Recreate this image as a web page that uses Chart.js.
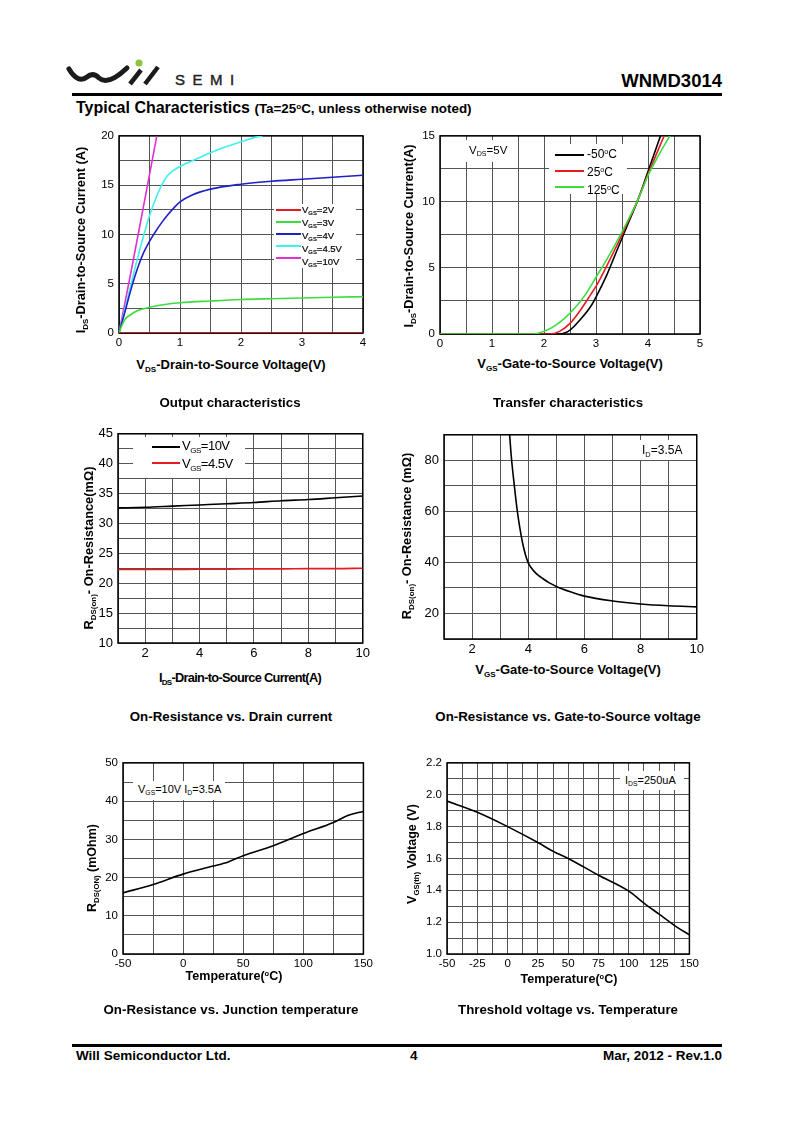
<!DOCTYPE html>
<html>
<head>
<meta charset="utf-8">
<script src="https://cdn.jsdelivr.net/npm/chart.js"></script>
<style>
  body { margin: 0; background: #fff; font-family: "Liberation Sans", Arial, sans-serif; }
  #page { position: relative; width: 800px; height: 1132px; overflow: hidden; background: #fff; }
  canvas { position: absolute; }
  .t { position: absolute; white-space: nowrap; color: #000; z-index: 2; }
  .c { transform: translate(-50%, -50%); }
  .r { transform: translate(-50%, -50%) rotate(-90deg); }
  .b { font-weight: bold; }
  .s { font-size: 0.62em; position: relative; top: 0.35em; }
  .o { font-size: 0.6em; position: relative; top: -0.55em; }
  .box { position: absolute; background: #fff; z-index: 1; }
  .ln { position: absolute; height: 2px; z-index: 2; }
  .rule { position: absolute; left: 72px; width: 650px; height: 3px; background: #000; }
  .cap { font-size: 13.3px; }
</style>
</head>
<body>
<div id="page">
  <!-- header -->
  <svg class="t" style="left:64px;top:56px" width="110" height="34" viewBox="64 56 110 34">
    <path d="M69 69 Q78 84 87 77 Q93 72 99 78 Q108 86 127 68" fill="none" stroke="#1b1b1b" stroke-width="5" stroke-linecap="round"/>
    <line x1="130" y1="84" x2="141" y2="70" stroke="#1b1b1b" stroke-width="4.5"/>
    <line x1="145" y1="84" x2="158" y2="67" stroke="#1b1b1b" stroke-width="4.5"/>
    <circle cx="139" cy="63" r="3.6" fill="#8cc63e"/>
  </svg>
  <div class="t" style="left:175px;top:71px;font-size:15px;letter-spacing:7.5px;color:#222;-webkit-text-stroke:0.4px #222">SEMI</div>
  <div class="t b" style="right:78px;top:70px;font-size:18.5px">WNMD3014</div>
  <div class="rule" style="top:93px"></div>
  <div class="t b" style="left:76px;top:99px;font-size:16px">Typical Characteristics <span style="font-size:13.4px">(Ta=25<span class="o">o</span>C, unless otherwise noted)</span></div>

  <!-- chart 1 -->
  <div class="box" style="left:274px;top:204px;width:82px;height:64px"></div>
  <div class="ln" style="left:276px;top:209px;width:25px;background:#e31b23"></div>
  <div class="ln" style="left:276px;top:221px;width:25px;background:#3ddc3d"></div>
  <div class="ln" style="left:276px;top:233px;width:25px;background:#2020c8"></div>
  <div class="ln" style="left:276px;top:245px;width:25px;background:#40f0f0"></div>
  <div class="ln" style="left:276px;top:257px;width:25px;background:#e030d0"></div>
  <div class="t" style="left:302px;top:204px;font-size:9.5px;line-height:12px;-webkit-text-stroke:0.2px #000">V<span class="s">GS</span>=2V<br>V<span class="s">GS</span>=3V<br>V<span class="s">GS</span>=4V<br>V<span class="s">GS</span>=4.5V<br>V<span class="s">GS</span>=10V</div>
  <div class="t b c" style="left:231px;top:364px;font-size:13px">V<span class="s">DS</span>-Drain-to-Source Voltage(V)</div>
  <div class="t b r" style="left:80px;top:240px;font-size:12.8px">I<span class="s">DS</span>-Drain-to-Source Current (A)</div>
  <div class="t b c cap" style="left:230px;top:402px">Output characteristics</div>

  <!-- chart 2 -->
  <div class="box" style="left:466px;top:140px;width:52px;height:22px"></div>
  <div class="t" style="left:469px;top:144px;font-size:11.5px">V<span class="s">DS</span>=5V</div>
  <div class="box" style="left:549px;top:144px;width:78px;height:50px"></div>
  <div class="ln" style="left:555px;top:154px;width:29px;background:#000"></div>
  <div class="ln" style="left:555px;top:170px;width:29px;background:#e31b23"></div>
  <div class="ln" style="left:555px;top:186px;width:29px;background:#3ddc3d"></div>
  <div class="t" style="left:587px;top:146px;font-size:12px;line-height:16px">-50<span class="o">o</span>C<br>25<span class="o">o</span>C<br>125<span class="o">o</span>C</div>
  <div class="t b c" style="left:570px;top:363px;font-size:13px">V<span class="s">GS</span>-Gate-to-Source Voltage(V)</div>
  <div class="t b r" style="left:408px;top:236px;font-size:12.8px">I<span class="s">DS</span>-Drain-to-Source Current(A)</div>
  <div class="t b c cap" style="left:568px;top:402px">Transfer characteristics</div>

  <!-- chart 3 -->
  <div class="box" style="left:133px;top:437px;width:112px;height:41px"></div>
  <div class="ln" style="left:152px;top:446px;width:28px;background:#000"></div>
  <div class="ln" style="left:152px;top:462px;width:28px;background:#e31b23"></div>
  <div class="t" style="left:182px;top:438px;font-size:13px;line-height:16px;letter-spacing:-0.5px">V<span class="s">GS</span>=10V<br>V<span class="s">GS</span>=4.5V</div>
  <div class="t b c" style="left:240px;top:677px;font-size:12.8px;letter-spacing:-0.7px">I<span class="s">DS</span>-Drain-to-Source Current(A)</div>
  <div class="t b r" style="left:88px;top:548px;font-size:12.8px">R<span class="s">DS(on)</span>- On-Resistance(mΩ)</div>
  <div class="t b c cap" style="left:231px;top:716px">On-Resistance vs. Drain current</div>

  <!-- chart 4 -->
  <div class="box" style="left:637px;top:440px;width:55px;height:20px"></div>
  <div class="t" style="left:642px;top:443px;font-size:12px">I<span class="s">D</span>=3.5A</div>
  <div class="t b c" style="left:568px;top:669px;font-size:13px">V<span class="s">GS</span>-Gate-to-Source Voltage(V)</div>
  <div class="t b r" style="left:406px;top:536px;font-size:12.8px">R<span class="s">DS(on)</span>- On-Resistance (mΩ)</div>
  <div class="t b c cap" style="left:568px;top:716px">On-Resistance vs. Gate-to-Source voltage</div>

  <!-- chart 5 -->
  <div class="box" style="left:133px;top:781px;width:92px;height:19px"></div>
  <div class="t" style="left:138px;top:783px;font-size:11px">V<span class="s">GS</span>=10V I<span class="s">D</span>=3.5A</div>
  <div class="t b c" style="left:234px;top:976px;font-size:12.5px">Temperature(<span class="o">o</span>C)</div>
  <div class="t b r" style="left:92px;top:868px;font-size:12.5px">R<span class="s">DS(ON)</span> (mOhm)</div>
  <div class="t b c cap" style="left:231px;top:1009px">On-Resistance vs. Junction temperature</div>

  <!-- chart 6 -->
  <div class="box" style="left:620px;top:771px;width:64px;height:19px"></div>
  <div class="t" style="left:625px;top:774px;font-size:11px">I<span class="s">DS</span>=250uA</div>
  <div class="t b c" style="left:569px;top:979px;font-size:12.5px">Temperature(<span class="o">o</span>C)</div>
  <div class="t b r" style="left:412px;top:854px;font-size:12.5px">V<span class="s">GS(th)</span> Voltage (V)</div>
  <div class="t b c cap" style="left:568px;top:1009px">Threshold voltage vs. Temperature</div>

  <!-- footer -->
  <div class="rule" style="top:1044px"></div>
  <div class="t b" style="left:76px;top:1048px;font-size:13.5px">Will Semiconductor Ltd.</div>
  <div class="t b" style="left:410px;top:1048px;font-size:13.5px">4</div>
  <div class="t b" style="right:78px;top:1048px;font-size:13.5px">Mar, 2012 - Rev.1.0</div>
</div>

<script>
// Output characteristics: [VDS, IDS]
const vgs2V = [[0, 0], [4, 0]]
const vgs3V = [[0, 0], [0.05, 0.8], [0.1, 1.4], [0.2, 1.9], [0.3, 2.25], [0.4, 2.45], [0.5, 2.62], [0.75, 2.9], [1, 3.07], [1.5, 3.25], [2, 3.4], [2.5, 3.48], [3, 3.55], [3.5, 3.62], [4, 3.68]]
const vgs4V = [[0, 0], [0.1, 2.2], [0.2, 4.5], [0.3, 6.5], [0.4, 8.1], [0.5, 9.3], [0.6, 10.3], [0.7, 11.2], [0.8, 12], [0.9, 12.7], [1, 13.3], [1.2, 14], [1.5, 14.6], [2, 15.1], [2.5, 15.4], [3, 15.6], [3.5, 15.8], [4, 16]]
const vgs45V = [[0, 0], [0.1, 2.5], [0.2, 5], [0.3, 7.5], [0.4, 9.8], [0.5, 11.9], [0.6, 13.6], [0.7, 15], [0.8, 16], [1, 16.9], [1.25, 17.6], [1.5, 18.3], [1.75, 18.9], [2, 19.4], [2.2, 19.8], [2.35, 20]]
const vgs10V = [[0, 0], [0.2, 6.3], [0.4, 12.8], [0.62, 20]]

// Transfer characteristics: [VGS, IDS]
const tempM50 = [[0, 0], [2.3, 0], [2.5, 0.3], [2.7, 1.1], [2.9, 2.1], [3, 2.8], [3.2, 4.4], [3.4, 6.3], [3.6, 8.2], [3.8, 10.1], [4, 12.3], [4.24, 15]]
const temp25 = [[0, 0], [2.1, 0], [2.3, 0.2], [2.5, 0.8], [2.7, 1.8], [2.9, 3], [3, 3.6], [3.2, 5.1], [3.4, 6.7], [3.6, 8.4], [3.8, 10.1], [4, 12.1], [4.31, 15]]
const temp125 = [[0, 0], [1.8, 0], [2, 0.2], [2.2, 0.6], [2.4, 1.2], [2.6, 2], [2.8, 3], [3, 4.3], [3.2, 5.6], [3.4, 7], [3.6, 8.5], [3.8, 10.1], [4, 12], [4.2, 13.5], [4.42, 15]]

// On-resistance vs drain current
const idsCurrent = [1, 2, 3, 4, 5, 6, 7, 8, 9, 10]
const rdsAt10V = [32.6, 32.7, 32.9, 33.1, 33.3, 33.5, 33.8, 34, 34.3, 34.6]
const rdsAt45V = [22.3, 22.3, 22.3, 22.35, 22.35, 22.4, 22.4, 22.45, 22.45, 22.5]

// On-resistance vs gate voltage
const gateVolts = [3.33, 3.4, 3.5, 3.6, 3.7, 3.8, 3.9, 4, 4.1, 4.2, 4.35, 4.5, 4.75, 5, 5.5, 6, 7, 8, 9, 10]
const rdsVsGate = [91, 81, 70.5, 61, 53.5, 47.5, 43, 39.8, 38, 36.6, 35, 33.8, 32, 30.6, 28.5, 26.8, 24.9, 23.7, 23, 22.6]

// vs temperature
const rdsTemps = [-50, -25, 0, 25, 37.5, 50, 75, 100, 125, 137.5, 150]
const rdsVsTemp = [16, 18.2, 20.9, 23, 24.1, 25.7, 28.3, 31.5, 34.4, 36.3, 37.3]
const vthTemps = [-50, -25, 0, 25, 37.5, 50, 75, 100, 112.5, 125, 137.5, 150]
const vthVsTemp = [1.96, 1.89, 1.8, 1.7, 1.645, 1.6, 1.495, 1.395, 1.32, 1.25, 1.18, 1.12]

const page = document.getElementById('page')
const FONT = '"Liberation Sans", Arial, sans-serif'
const GRID = '#555'

const frame = {
  id: 'frame',
  beforeDatasetsDraw(chart) {
    const a = chart.chartArea, ctx = chart.ctx
    ctx.save()
    ctx.strokeStyle = '#000'
    ctx.lineWidth = 1.5
    ctx.strokeRect(a.left, a.top, a.right - a.left, a.bottom - a.top)
    ctx.restore()
  }
}

const pairs = arr => arr.map(p => ({ x: p[0], y: p[1] }))
const zip = (xs, ys) => xs.map((x, i) => ({ x, y: ys[i] }))

function line(data, color) {
  return { data, borderColor: color, borderWidth: 1.6, showLine: true, pointRadius: 0, cubicInterpolationMode: 'monotone' }
}

function plot(box, xAxis, yAxis, datasets, fontSize) {
  const w = box.r - box.l + 55, h = box.b - box.t + 30
  const cv = document.createElement('canvas')
  cv.width = w
  cv.height = h
  cv.style.left = (box.l - 45) + 'px'
  cv.style.top = (box.t - 10) + 'px'
  cv.style.width = w + 'px'
  cv.style.height = h + 'px'
  page.appendChild(cv)

  const tickFont = { family: FONT, size: fontSize || 11.5 }
  new Chart(cv, {
    type: 'scatter',
    data: { datasets },
    options: {
      responsive: false,
      animation: false,
      layout: { padding: { top: 10, right: 10, left: 0, bottom: 0 } },
      plugins: { legend: { display: false }, tooltip: { enabled: false } },
      scales: {
        x: {
          type: 'linear', min: xAxis.min, max: xAxis.max,
          ticks: { stepSize: xAxis.step, autoSkip: false, maxRotation: 0, color: '#000', font: tickFont, padding: 3, callback: xAxis.label },
          grid: { color: GRID, lineWidth: 1, drawTicks: false },
          border: { display: false },
          afterFit: s => { s.height = 20 }
        },
        y: {
          type: 'linear', min: yAxis.min, max: yAxis.max,
          ticks: { stepSize: yAxis.step, autoSkip: false, color: '#000', font: tickFont, padding: 5, callback: yAxis.label },
          grid: { color: GRID, lineWidth: 1, drawTicks: false },
          border: { display: false },
          afterFit: s => { s.width = 45 }
        }
      }
    },
    plugins: [frame]
  })
}

const every = n => v => (Math.abs(Math.round(v / n) * n - v) < 1e-6 ? Math.round(v / n) * n : '')

plot({ l: 119, t: 134, r: 363, b: 333 },
  { min: 0, max: 4, step: 0.5, label: every(1) },
  { min: 0, max: 20, step: 2.5, label: every(5) },
  [line(pairs(vgs2V), '#e31b23'), line(pairs(vgs3V), '#3ddc3d'), line(pairs(vgs4V), '#2020c8'),
   line(pairs(vgs45V), '#40f0f0'), line(pairs(vgs10V), '#e030d0')])

plot({ l: 440, t: 134, r: 700, b: 334 },
  { min: 0, max: 5, step: 0.5, label: every(1) },
  { min: 0, max: 15, step: 2.5, label: every(5) },
  [line(pairs(temp125), '#3ddc3d'), line(pairs(temp25), '#e31b23'), line(pairs(tempM50), '#000')])

plot({ l: 118, t: 431, r: 363, b: 643 },
  { min: 1, max: 10, step: 1, label: every(2) },
  { min: 10, max: 45, step: 2.5, label: every(5) },
  [line(zip(idsCurrent, rdsAt10V), '#000'), line(zip(idsCurrent, rdsAt45V), '#e31b23')], 13)

plot({ l: 444, t: 432, r: 697, b: 639 },
  { min: 1, max: 10, step: 1, label: every(2) },
  { min: 10, max: 90, step: 10, label: every(20) },
  [line(zip(gateVolts, rdsVsGate), '#000')], 13)

plot({ l: 123, t: 761, r: 366, b: 954 },
  { min: -50, max: 150, step: 25, label: every(50) },
  { min: 0, max: 50, step: 5, label: every(10) },
  [line(zip(rdsTemps, rdsVsTemp), '#000')], 11.5)

plot({ l: 447, t: 761, r: 692, b: 954 },
  { min: -50, max: 150, step: 12.5, label: every(25) },
  { min: 1, max: 2.2, step: 0.1, label: v => (Math.round(v * 10) % 2 === 0 ? v.toFixed(1) : '') },
  [line(zip(vthTemps, vthVsTemp), '#000')], 11.5)
</script>
</body>
</html>
